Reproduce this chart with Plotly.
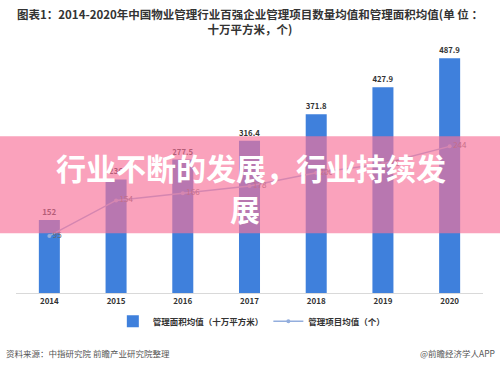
import plotly.graph_objects as go

years = ["2014", "2015", "2016", "2017", "2018", "2019", "2020"]
area_avg = [152, 236, 277.5, 316.4, 371.8, 427.9, 487.9]
project_avg = [95, 154, 166, 178, 200, 215, 244]
area_name = "管理面积均值（十万平方米）"
project_name = "管理项目均值（个）"
title_text = "图表1：2014-2020年中国物业管理行业百强企业管理项目数量均值和管理面积均值(单 位 ：<br>十万平方米，个)"
overlay_line1 = "行业不断的发展，行业持续发"
overlay_line2 = "展"
source_text = "资料来源：中指研究院 前瞻产业研究院整理"
brand_text = "@前瞻经济学人APP"

FONT = "Noto Sans CJK SC"

fig = go.Figure()
fig.add_trace(go.Bar(
    x=years, y=area_avg, name="<b>" + area_name + "</b>",
    marker=dict(color="#3F80DC", line=dict(width=0)),
    text=[f"<b>{v}</b>" for v in area_avg], textposition="outside",
    textfont=dict(size=8, color="#333333", family=FONT),
    cliponaxis=False,
))
fig.add_trace(go.Scatter(
    x=years, y=project_avg, name="<b>" + project_name + "</b>", yaxis="y2",
    mode="lines+markers+text",
    line=dict(color="#93AEDD", width=1.5),
    marker=dict(size=4, color="#93AEDD"),
    text=[str(v) for v in project_avg], textposition="middle right",
    textfont=dict(size=8, color="#666666", family=FONT),
    cliponaxis=False,
))

fig.update_layout(
    width=500, height=370,
    margin=dict(l=16, r=17, t=40, b=77, autoexpand=False),
    paper_bgcolor="white", plot_bgcolor="white",
    font=dict(family=FONT, color="#333333"),
    bargap=0.685,
    showlegend=True,
    legend=dict(orientation="h", x=0.505, xanchor="center", y=-0.112, yanchor="middle",
                font=dict(size=8.5, color="#333333", family=FONT),
                itemwidth=30, traceorder="normal"),
    xaxis=dict(showgrid=False, showline=True, linecolor="#D9D9D9", linewidth=1,
               ticks="", tickvals=years, ticktext=["<b>" + y + "</b>" for y in years],
               tickfont=dict(size=8, color="#333333", family=FONT)),
    yaxis=dict(range=[0, 526], visible=False, showgrid=False),
    yaxis2=dict(range=[0, 421], overlaying="y", side="right", visible=False, showgrid=False),
    shapes=[dict(type="rect", xref="paper", yref="paper",
                 x0=-0.05, x1=1.05, y0=0.236, y1=0.620,
                 fillcolor="rgba(247,114,153,0.66)", line=dict(width=0), layer="above")],
    annotations=[
        dict(text="<b>" + title_text + "</b>", xref="paper", yref="paper",
             x=0.5, y=1.0, yanchor="bottom", xanchor="center", yshift=1, showarrow=False,
             font=dict(size=11.5, color="#333333", family=FONT)),
        dict(text="<b>" + overlay_line1 + "</b>", xref="paper", yref="paper",
             x=0.503, y=0.50, xanchor="center", yanchor="middle", showarrow=False,
             font=dict(size=30, color="white", family=FONT)),
        dict(text="<b>" + overlay_line2 + "</b>", xref="paper", yref="paper",
             x=0.49, y=0.335, xanchor="center", yanchor="middle", showarrow=False,
             font=dict(size=30, color="white", family=FONT)),
        dict(text=source_text, xref="paper", yref="paper", x=-0.025, xanchor="left",
             y=-0.238, yanchor="middle", showarrow=False,
             font=dict(size=8.5, color="#555555", family=FONT)),
        dict(text=brand_text, xref="paper", yref="paper", x=1.03, xanchor="right",
             y=-0.238, yanchor="middle", showarrow=False,
             font=dict(size=8.5, color="#555555", family=FONT)),
    ],
)

fig.write_html("out.html", config={"displayModeBar": False},
               post_script="document.body.style.margin='0px';")
